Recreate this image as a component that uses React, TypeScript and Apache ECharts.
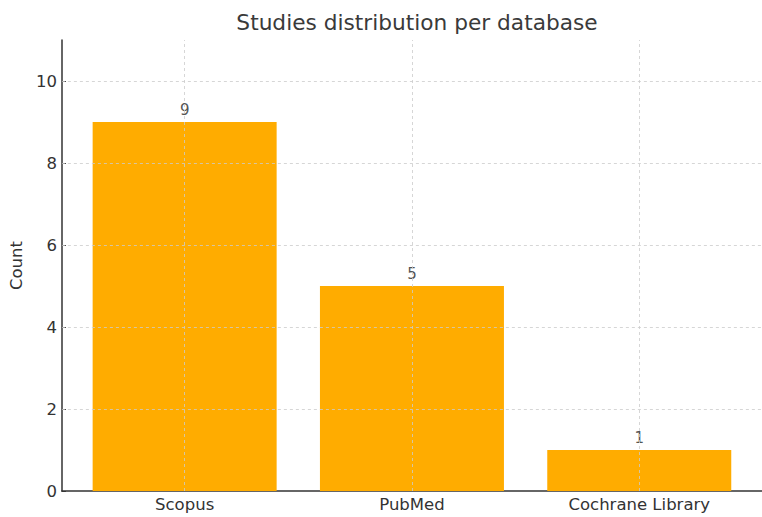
import React, { useEffect, useRef } from "react";
import * as echarts from "echarts";

const categories = ["Scopus", "PubMed", "Cochrane Library"];
const counts = [9, 5, 1];
const yTicks = [0, 2, 4, 6, 8, 10];
const titleText = "Studies distribution per database";
const yAxisTitle = "Count";

export default function App() {
  const ref = useRef<HTMLDivElement>(null);
  useEffect(() => {
    if (!ref.current) return;
    const chart = echarts.init(ref.current, null, { renderer: "svg" });
    const font = "DejaVu Sans";
    const idx = categories.map((_, i) => i);
    chart.setOption({
      animation: false,
      textStyle: { fontFamily: font },
      title: {
        text: titleText,
        left: 412,
        textAlign: "center",
        top: 6,
        textStyle: { fontFamily: font, fontSize: 21.7, fontWeight: "normal", color: "#3a3a3a" },
      },
      grid: { left: 58, top: 40, width: 708, height: 451, containLabel: false },
      xAxis: {
        type: "value",
        min: -0.54,
        max: 2.54,
        axisLine: { show: true, onZero: false, lineStyle: { color: "#333", width: 1.5 } },
        axisTick: { show: true, inside: true, customValues: idx, length: 4, lineStyle: { color: "#333" } },
        axisLabel: {
          customValues: idx,
          formatter: (v: number) => categories[Math.round(v)] ?? "",
          fontSize: 16.5,
          color: "#333",
          margin: 5,
          fontFamily: font,
        },
        splitLine: { show: false },
      },
      yAxis: {
        type: "value",
        min: 0,
        max: 11,
        interval: 2,
        name: yAxisTitle,
        nameLocation: "middle",
        nameGap: 36,
        nameTextStyle: { fontSize: 16.5, color: "#333", fontFamily: font },
        axisLine: { show: true, onZero: false, lineStyle: { color: "#333", width: 1.5 } },
        axisTick: { show: true, inside: true, length: 4, lineStyle: { color: "#333" }, customValues: yTicks },
        axisLabel: { customValues: yTicks, fontSize: 16.5, color: "#333", margin: 5, fontFamily: font },
        splitLine: { show: false },
      },
      series: [
        {
          type: "bar",
          barWidth: 184,
          data: counts.map((c, i) => [i, c]),
          itemStyle: { color: "#FFAC00" },
          label: {
            show: true,
            position: "top",
            distance: 5,
            fontSize: 15,
            color: "#555",
            fontFamily: font,
            formatter: (p: any) => String(p.value[1]),
          },
          markLine: {
            silent: true,
            symbol: "none",
            label: { show: false },
            lineStyle: { color: "#cccccc", type: [3, 3], width: 0.8 },
            data: [
              ...idx.map((i) => ({ xAxis: i })),
              ...yTicks.filter((t) => t > 0).map((t) => ({ yAxis: t })),
            ],
          },
        },
      ],
    });
    return () => chart.dispose();
  }, []);
  return (
    <div
      ref={ref}
      style={{ position: "absolute", left: 0, top: 0, width: 762, height: 517, background: "#fff" }}
    />
  );
}
